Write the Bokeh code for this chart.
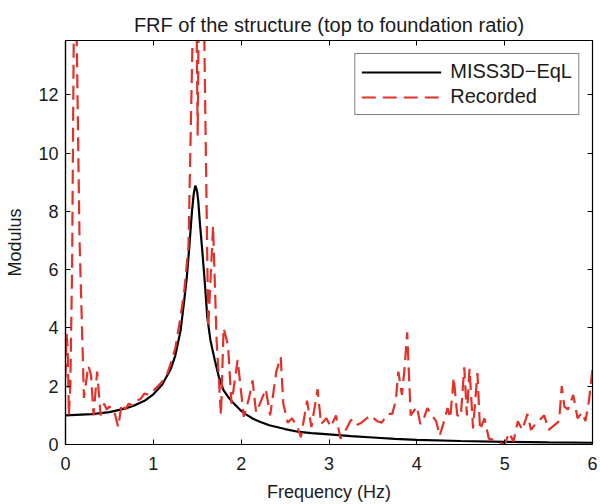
from bokeh.plotting import figure
from bokeh.models import Range1d, LinearAxis, FixedTicker, Legend, LegendItem
from bokeh.embed import file_html
from bokeh.resources import INLINE

# MISS3D-EqL computed FRF
freq_model = [0.0, 0.3, 0.5, 0.7, 0.8, 0.9, 1.0, 1.1, 1.2, 1.25, 1.31, 1.35, 1.38,
              1.41, 1.44, 1.46, 1.478, 1.49, 1.50, 1.511, 1.53, 1.557, 1.587, 1.614,
              1.65, 1.70, 1.746, 1.80, 1.85, 1.90, 1.99, 2.05, 2.13, 2.22, 2.32,
              2.5, 2.66, 2.8, 3.0, 3.25, 3.5, 3.75, 4.0, 4.5, 5.0, 5.5, 6.0]
mod_model = [1.0, 1.04, 1.11, 1.25, 1.36, 1.5, 1.72, 2.05, 2.6, 3.05, 3.9, 4.9, 5.7,
             6.8, 8.0, 8.6, 8.88, 8.78, 8.65, 8.37, 7.6, 6.66, 5.52, 4.38,
             3.58, 2.89, 2.32, 1.86, 1.64, 1.46, 1.18, 1.04, 0.89, 0.77, 0.66,
             0.53, 0.43, 0.39, 0.35, 0.29, 0.24, 0.19, 0.16, 0.12, 0.09, 0.07, 0.06]

# Recorded FRF
freq_rec = [0.0, 0.012, 0.025, 0.038, 0.055, 0.075, 0.095, 0.11, 0.125, 0.16, 0.21,
            0.26, 0.29, 0.32, 0.36, 0.40, 0.44, 0.47, 0.50, 0.55, 0.60, 0.64, 0.68,
            0.72, 0.76, 0.80, 0.85, 0.90, 0.95, 1.00, 1.05, 1.10, 1.15, 1.20, 1.25,
            1.30, 1.35, 1.40, 1.46, 1.475, 1.505, 1.53, 1.58, 1.625, 1.68, 1.72,
            1.77, 1.80, 1.85, 1.89, 1.96, 2.03, 2.09, 2.13, 2.17, 2.20, 2.28, 2.33,
            2.40, 2.45, 2.48, 2.53, 2.58, 2.64, 2.68, 2.75, 2.80, 2.87, 2.91, 2.97,
            3.02, 3.08, 3.13, 3.20, 3.25, 3.30, 3.37, 3.43, 3.47, 3.55, 3.60, 3.67,
            3.72, 3.76, 3.79, 3.83, 3.86, 3.89, 3.93, 4.00, 4.04, 4.08, 4.12, 4.17,
            4.22, 4.26, 4.30, 4.35, 4.38, 4.42, 4.46, 4.50, 4.54, 4.57, 4.60, 4.64,
            4.69, 4.72, 4.77, 4.82, 4.88, 4.95, 5.00, 5.05, 5.10, 5.15, 5.20, 5.26,
            5.30, 5.35, 5.45, 5.50, 5.58, 5.62, 5.65, 5.68, 5.72, 5.78, 5.83, 5.88,
            5.92, 5.96, 6.00]
mod_rec = [2.3, 3.8, 3.3, 1.0, 2.0, 6.0, 14.5, 40.0, 14.5, 7.0, 1.6,
           2.7, 2.4, 1.0, 2.5, 1.0, 1.4, 1.2, 1.3, 1.2, 0.6, 1.4, 1.2,
           1.4, 1.35, 1.5, 1.55, 1.75, 1.7, 1.85, 2.0, 2.15, 2.35, 2.8, 3.3,
           4.2, 5.2, 6.8, 16.0, 20.0, 10.6, 20.0, 14.0, 4.0, 7.5, 3.6,
           1.0, 4.0, 3.4, 1.4, 2.9, 0.95, 1.6, 2.2, 1.1, 1.3, 1.9, 1.0,
           2.5, 3.0, 1.4, 0.75, 0.9, 0.6, 0.25, 1.5, 0.6, 1.9, 0.7, 0.9,
           0.6, 1.0, 0.2, 0.55, 0.85, 0.65, 0.75, 0.9, 1.0, 0.8, 0.75, 1.05,
           1.05, 1.5, 2.5, 1.7, 2.6, 3.85, 1.0, 1.3, 0.7, 0.9, 1.25, 1.0,
           0.8, 0.3, 0.7, 1.25, 0.9, 2.3, 1.0, 0.95, 2.65, 1.0, 2.6, 0.55,
           2.45, 0.5, 0.9, 0.2, 0.15, 0.05, 0.0, 0.4, 0.1, 0.8, 0.5, 1.05,
           0.5, 0.7, 1.0, 0.5, 0.7, 0.8, 2.0, 1.3, 1.2, 1.7, 0.9, 1.1,
           0.8, 1.5, 2.6]

x_ticks = [0, 1, 2, 3, 4, 5, 6]
y_ticks = [0, 2, 4, 6, 8, 10, 12]

FONT = "Liberation Sans"

p = figure(width=600, height=504, output_backend="svg", toolbar_location=None,
           x_range=Range1d(0, 6), y_range=Range1d(0, 13.86),
           min_border_left=65, min_border_right=8, min_border_top=40,
           min_border_bottom=60, background_fill_color="white",
           border_fill_color="white")

p.title.text = "FRF of the structure (top to foundation ratio)"
p.title.align = "center"
p.title.text_font = FONT
p.title.text_font_size = "20px"
p.title.text_font_style = "normal"
p.title.text_color = "#1a1a1a"

p.grid.visible = False
p.outline_line_color = "black"
p.outline_line_width = 1.2

for ax in p.xaxis:
    ax.ticker = FixedTicker(ticks=x_ticks)
for ax in p.yaxis:
    ax.ticker = FixedTicker(ticks=y_ticks)

for ax in list(p.xaxis) + list(p.yaxis):
    ax.major_tick_in = 5
    ax.major_tick_out = 0
    ax.minor_tick_in = 0
    ax.minor_tick_out = 0
    ax.axis_line_color = "black"
    ax.axis_line_width = 1.2
    ax.major_tick_line_color = "black"
    ax.major_label_text_font = FONT
    ax.major_label_text_font_size = "18px"
    ax.major_label_text_color = "#1a1a1a"
    ax.axis_label_text_font = FONT
    ax.axis_label_text_font_size = "18px"
    ax.axis_label_text_font_style = "normal"
    ax.axis_label_text_color = "#1a1a1a"

p.xaxis.axis_label = "Frequency (Hz)"
p.yaxis.axis_label = "Modulus"
p.xaxis.major_label_standoff = 12
p.yaxis.major_label_standoff = 7
p.xaxis.axis_label_standoff = 9
p.yaxis.axis_label_standoff = 10

# mirrored ticks on top and right (no labels)
top_ax = LinearAxis(ticker=FixedTicker(ticks=x_ticks),
                    major_label_overrides={t: "" for t in x_ticks},
                    major_tick_in=5, major_tick_out=0, minor_tick_in=0, minor_tick_out=0,
                    axis_line_color="black", major_tick_line_color="black",
                    major_label_standoff=0)
right_ax = LinearAxis(ticker=FixedTicker(ticks=y_ticks),
                      major_label_overrides={t: "" for t in y_ticks},
                      major_tick_in=5, major_tick_out=0, minor_tick_in=0, minor_tick_out=0,
                      axis_line_color="black", major_tick_line_color="black",
                      major_label_standoff=0)
p.add_layout(top_ax, "above")
p.add_layout(right_ax, "right")

r_model = p.line(freq_model, mod_model, line_color="black", line_width=2.2)
r_rec = p.line(freq_rec, mod_rec, line_color="#e3312a", line_width=2.2,
               line_dash="14 7")

legend = Legend(items=[LegendItem(label="MISS3D\u2212EqL", renderers=[r_model]),
                       LegendItem(label="Recorded", renderers=[r_rec])],
                location="top_right")
legend.label_text_font = FONT
legend.label_text_font_size = "20px"
legend.label_text_color = "#1a1a1a"
legend.glyph_width = 80
legend.glyph_height = 20
legend.label_height = 20
legend.label_standoff = 9
legend.padding = 6
legend.spacing = 2
legend.margin = 13
legend.border_line_color = "black"
legend.border_line_width = 1.2
legend.background_fill_alpha = 1.0
p.add_layout(legend)

open("out.html", "w").write(file_html(p, INLINE))
